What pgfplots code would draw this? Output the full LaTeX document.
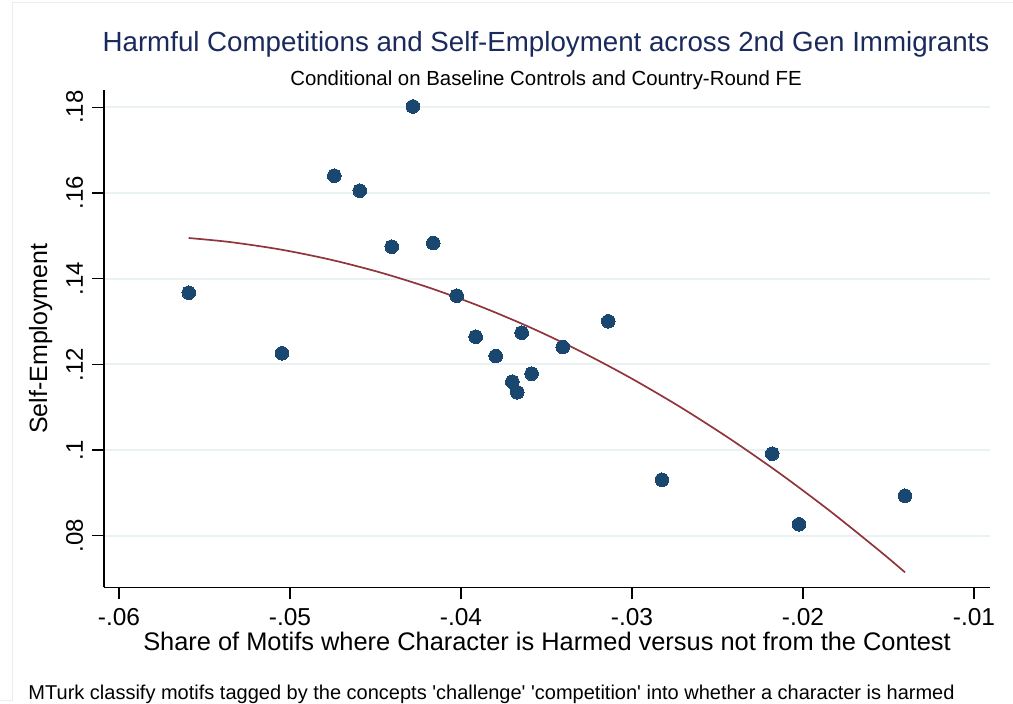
\documentclass[border=0pt]{standalone}
\usepackage{fontspec}
\setmainfont{Liberation Sans}
\usepackage{pgfplots}
\usepackage{pgfplotstable}
\pgfplotsset{compat=1.18}
\definecolor{stnavy}{RGB}{26,71,111}
\definecolor{stmaroon}{RGB}{144,53,59}
\definecolor{stgrid}{RGB}{234,241,243}
\definecolor{sttitle}{RGB}{26,42,92}
\definecolor{stframe}{RGB}{232,238,240}

\pgfplotstableread{
x y
-0.05592 0.13672
-0.05047 0.12258
-0.04741 0.16403
-0.04592 0.16053
-0.04281 0.18020
-0.04405 0.14746
-0.04162 0.14832
-0.04025 0.13602
-0.03914 0.12645
-0.03645 0.12739
-0.03797 0.12195
-0.03405 0.12405
-0.03139 0.13005
-0.03700 0.11595
-0.03587 0.11781
-0.03671 0.11347
-0.02825 0.09307
-0.02180 0.09914
-0.02023 0.08266
-0.01404 0.08934
}\scatterdata

\pgfplotstableread{
x y
-0.055924 0.149491
-0.053509 0.148550
-0.050585 0.146825
-0.047661 0.144465
-0.044737 0.141466
-0.041813 0.137831
-0.038889 0.133555
-0.035965 0.128641
-0.033041 0.123091
-0.030117 0.116900
-0.027193 0.110075
-0.024269 0.102607
-0.021345 0.094505
-0.018421 0.085763
-0.015497 0.076384
-0.014035 0.071457
}\fitdata

\begin{document}
\begin{tikzpicture}
\begin{axis}[
  name=ax,
  scale only axis,
  width=886bp, height=497.3bp,
  xmin=-0.060877, xmax=-0.009064,
  ymin=0.06796, ymax=0.18404,
  axis x line*=bottom, axis y line*=left,
  axis line style={black, line width=1.3bp, -},
  scaled x ticks=false, scaled y ticks=false,
  xtick={-0.06,-0.05,-0.04,-0.03,-0.02,-0.01},
  xticklabels={-.06,-.05,-.04,-.03,-.02,-.01},
  ytick={0.08,0.10,0.12,0.14,0.16,0.18},
  yticklabels={.08,.1,.12,.14,.16,.18},
  tick align=outside,
  major tick length=12bp,
  tick style={black, line width=1.3bp},
  ymajorgrids,
  grid style={stgrid, line width=2bp},
  xticklabel style={font=\fontsize{24.5bp}{28bp}\selectfont, anchor=base},
  xticklabel shift=26.5bp,
  yticklabel style={font=\fontsize{24bp}{28bp}\selectfont, rotate=90, anchor=base},
  yticklabel shift=9bp,
  xlabel={Share of Motifs where Character is Harmed versus not from the Contest},
  xlabel style={at={(axis description cs:0.5,-0.12608)}, anchor=base, font=\fontsize{25.4bp}{30bp}\selectfont, inner sep=0pt},
  ylabel={Self-Employment},
  ylabel style={at={(axis description cs:-0.06433,0.5)}, rotate=0, anchor=base, font=\fontsize{25bp}{30bp}\selectfont, inner sep=0pt},
  clip=false,
]
\addplot[only marks, mark=*, mark size=6.8bp, mark options={fill=stnavy, draw=stnavy, line width=0pt}] table[x=x, y=y] {\scatterdata};
\addplot[stmaroon, line width=1.7bp, smooth, no markers] table[x=x, y=y] {\fitdata};
\end{axis}
\path (ax.south west) ++(-104bp,587.3bp) coordinate (TL);
\draw[stframe, line width=1bp] ([shift={(0bp,-700bp)}]TL) -- ([shift={(12.3bp,-700bp)}]TL) -- ([shift={(12.3bp,-3bp)}]TL) -- ([shift={(1013bp,-3bp)}]TL);
\node[anchor=base, text=sttitle, font=\fontsize{27.7bp}{32bp}\selectfont, inner sep=0pt] at ([shift={(546bp,-51.7bp)}]TL) {Harmful Competitions and Self-Employment across 2nd Gen Immigrants};
\node[anchor=base, text=black, font=\fontsize{20.4bp}{24bp}\selectfont, inner sep=0pt] at ([shift={(546bp,-85.7bp)}]TL) {Conditional on Baseline Controls and Country-Round FE};
\node[anchor=base west, text=black, font=\fontsize{20bp}{24bp}\selectfont, inner sep=0pt] at ([shift={(28.3bp,-699.3bp)}]TL) {MTurk classify motifs tagged by the concepts \textquotesingle challenge\textquotesingle{} \textquotesingle competition\textquotesingle{} into whether a character is harmed};
\pgfresetboundingbox
\path[use as bounding box] (TL) rectangle ([shift={(1013bp,-704bp)}]TL);
\end{tikzpicture}
\end{document}
